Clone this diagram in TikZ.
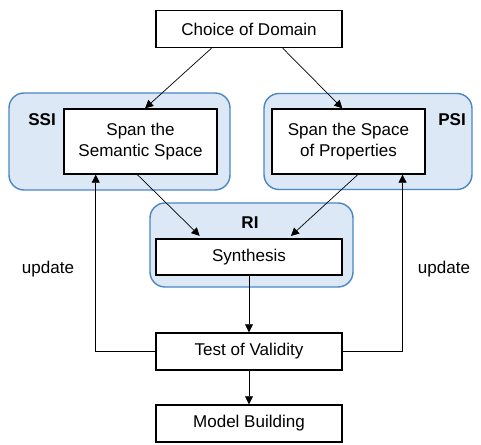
\documentclass[tikz,border=0pt]{standalone}
\usepackage{fontspec}
\setmainfont{Liberation Sans}
\usetikzlibrary{arrows.meta,calc}

\definecolor{grpfill}{RGB}{220,232,245}
\definecolor{grpline}{RGB}{74,134,198}

\begin{document}
\begin{tikzpicture}[x=0.02cm, y=-0.02cm,
    font=\fontsize{9.7}{11.6}\selectfont,
    box/.style={draw, line width=0.8pt, fill=white, align=center,
      minimum width=186*0.02cm, minimum height=37*0.02cm, inner sep=0pt},
    spanbox/.style={box, minimum width=153*0.02cm, minimum height=65*0.02cm},
    grp/.style={draw=grpline, fill=grpfill, line width=0.8pt,
      rounded corners=0.3cm, inner sep=0pt},
    tag/.style={font=\fontsize{9.7}{11.6}\selectfont\bfseries},
    arr/.style={-{Triangle[length=0.16cm, width=0.16cm]}, thin}]
  \useasboundingbox (0,0) rectangle (481,445);

  % groups
  \node[grp, minimum width=221*0.02cm, minimum height=97*0.02cm] (ssigrp) at (119.5,141.5) {};
  \node[grp, minimum width=208*0.02cm, minimum height=96*0.02cm] (psigrp) at (368,141.5) {};
  \node[grp, minimum width=203*0.02cm, minimum height=84*0.02cm] (rigrp) at (251.5,245) {};
  \node[tag] (ssi) at (42,120) {SSI};
  \node[tag] (psi) at (452,120) {PSI};
  \node[tag] (ri) at (250,223) {RI};

  % boxes
  \node[box] (dom) at (249,29) {Choice of Domain};
  \node[spanbox] (ssibox) at (140.5,141.5) {Span the\\Semantic Space};
  \node[spanbox] (psibox) at (348.5,141.5) {Span the Space\\of Properties};
  \node[box, minimum height=36*0.02cm] (syn) at (249,257) {Synthesis};
  \node[box] (test) at (249,351.5) {Test of Validity};
  \node[box] (model) at (249,423.5) {Model Building};

  \node (upl) at (48,269) {update};
  \node (upr) at (444,269) {update};

  % connectors
  \draw[arr] ($(dom.south west)!0.3!(dom.south east)$) -- ($(ssibox.north west)!0.53!(ssibox.north east)$);
  \draw[arr] ($(dom.south west)!0.68!(dom.south east)$) -- ($(psibox.north west)!0.46!(psibox.north east)$);
  \draw[arr, shorten >=2pt] ($(ssibox.south west)!0.48!(ssibox.south east)$) -- ($(syn.north west)!0.25!(syn.north east)$);
  \draw[arr, shorten >=2pt] ($(psibox.south west)!0.56!(psibox.south east)$) -- ($(syn.north west)!0.71!(syn.north east)$);
  \draw[arr] (syn) -- (test);
  \draw[arr] (test) -- (model);
  \draw[arr] (test.west) -| ($(ssibox.south west)!0.21!(ssibox.south east)$);
  \draw[arr] (test.east) -| ($(psibox.south west)!0.85!(psibox.south east)$);
\end{tikzpicture}
\end{document}
